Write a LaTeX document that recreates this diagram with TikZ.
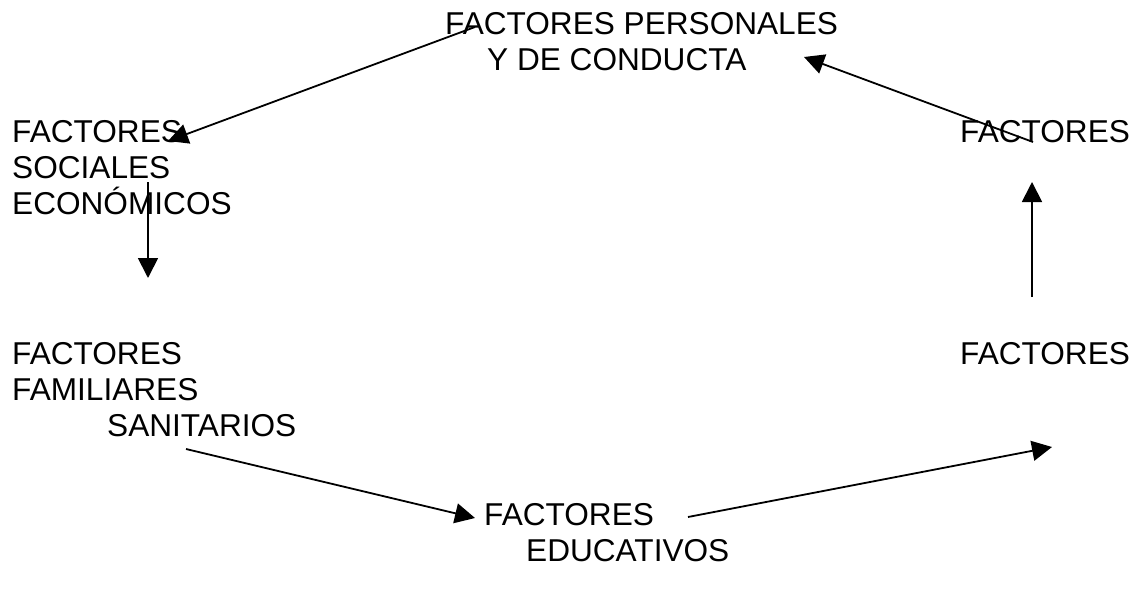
\documentclass[tikz,border=0pt]{standalone}
\usepackage{fontspec}
\setmainfont{Liberation Sans}
\usetikzlibrary{arrows.meta}
\tikzset{
  lbl/.style={anchor=north west, inner sep=0pt, align=left,
    font=\fontsize{31.6}{36}\selectfont},
  arr/.style={line width=1.8pt, -{Triangle[length=20pt,width=20pt]}},
}
\begin{document}
\begin{tikzpicture}[x=1pt,y=-1pt]
\useasboundingbox (0,0) rectangle (1138,589);
% labels (north west = cap top of first line)
\node[lbl] (pers) at (445,12.4) {FACTORES PERSONALES\\\hspace*{42pt}Y DE CONDUCTA};
\node[lbl] (soc) at (12,120.4) {FACTORES\\SOCIALES\\ECONÓMICOS};
\node[lbl] (fam) at (12,342) {FACTORES\\FAMILIARES\\\hspace*{95pt}SANITARIOS};
\node[lbl] (edu) at (484,503.4) {FACTORES\\\hspace*{42pt}EDUCATIVOS};
\node[lbl] (r2) at (960,342) {FACTORES};
\node[lbl] (r1) at (960,120.4) {FACTORES};
% arrow end points
\coordinate (a1s) at (475,27);
\coordinate (a1e) at (168,141);
\coordinate (a2s) at (148,182);
\coordinate (a2e) at (148,278);
\coordinate (a3s) at (186,449);
\coordinate (a3e) at (475,518);
\coordinate (a4s) at (688,517);
\coordinate (a4e) at (1052,447);
\coordinate (a5s) at (1032,297);
\coordinate (a5e) at (1032,182);
\coordinate (a6s) at (1033,142);
\coordinate (a6e) at (804,57);
\draw[arr] (a1s) -- (a1e);
\draw[arr] (a2s) -- (a2e);
\draw[arr] (a3s) -- (a3e);
\draw[arr] (a4s) -- (a4e);
\draw[arr] (a5s) -- (a5e);
\draw[arr] (a6s) -- (a6e);
\end{tikzpicture}
\end{document}
